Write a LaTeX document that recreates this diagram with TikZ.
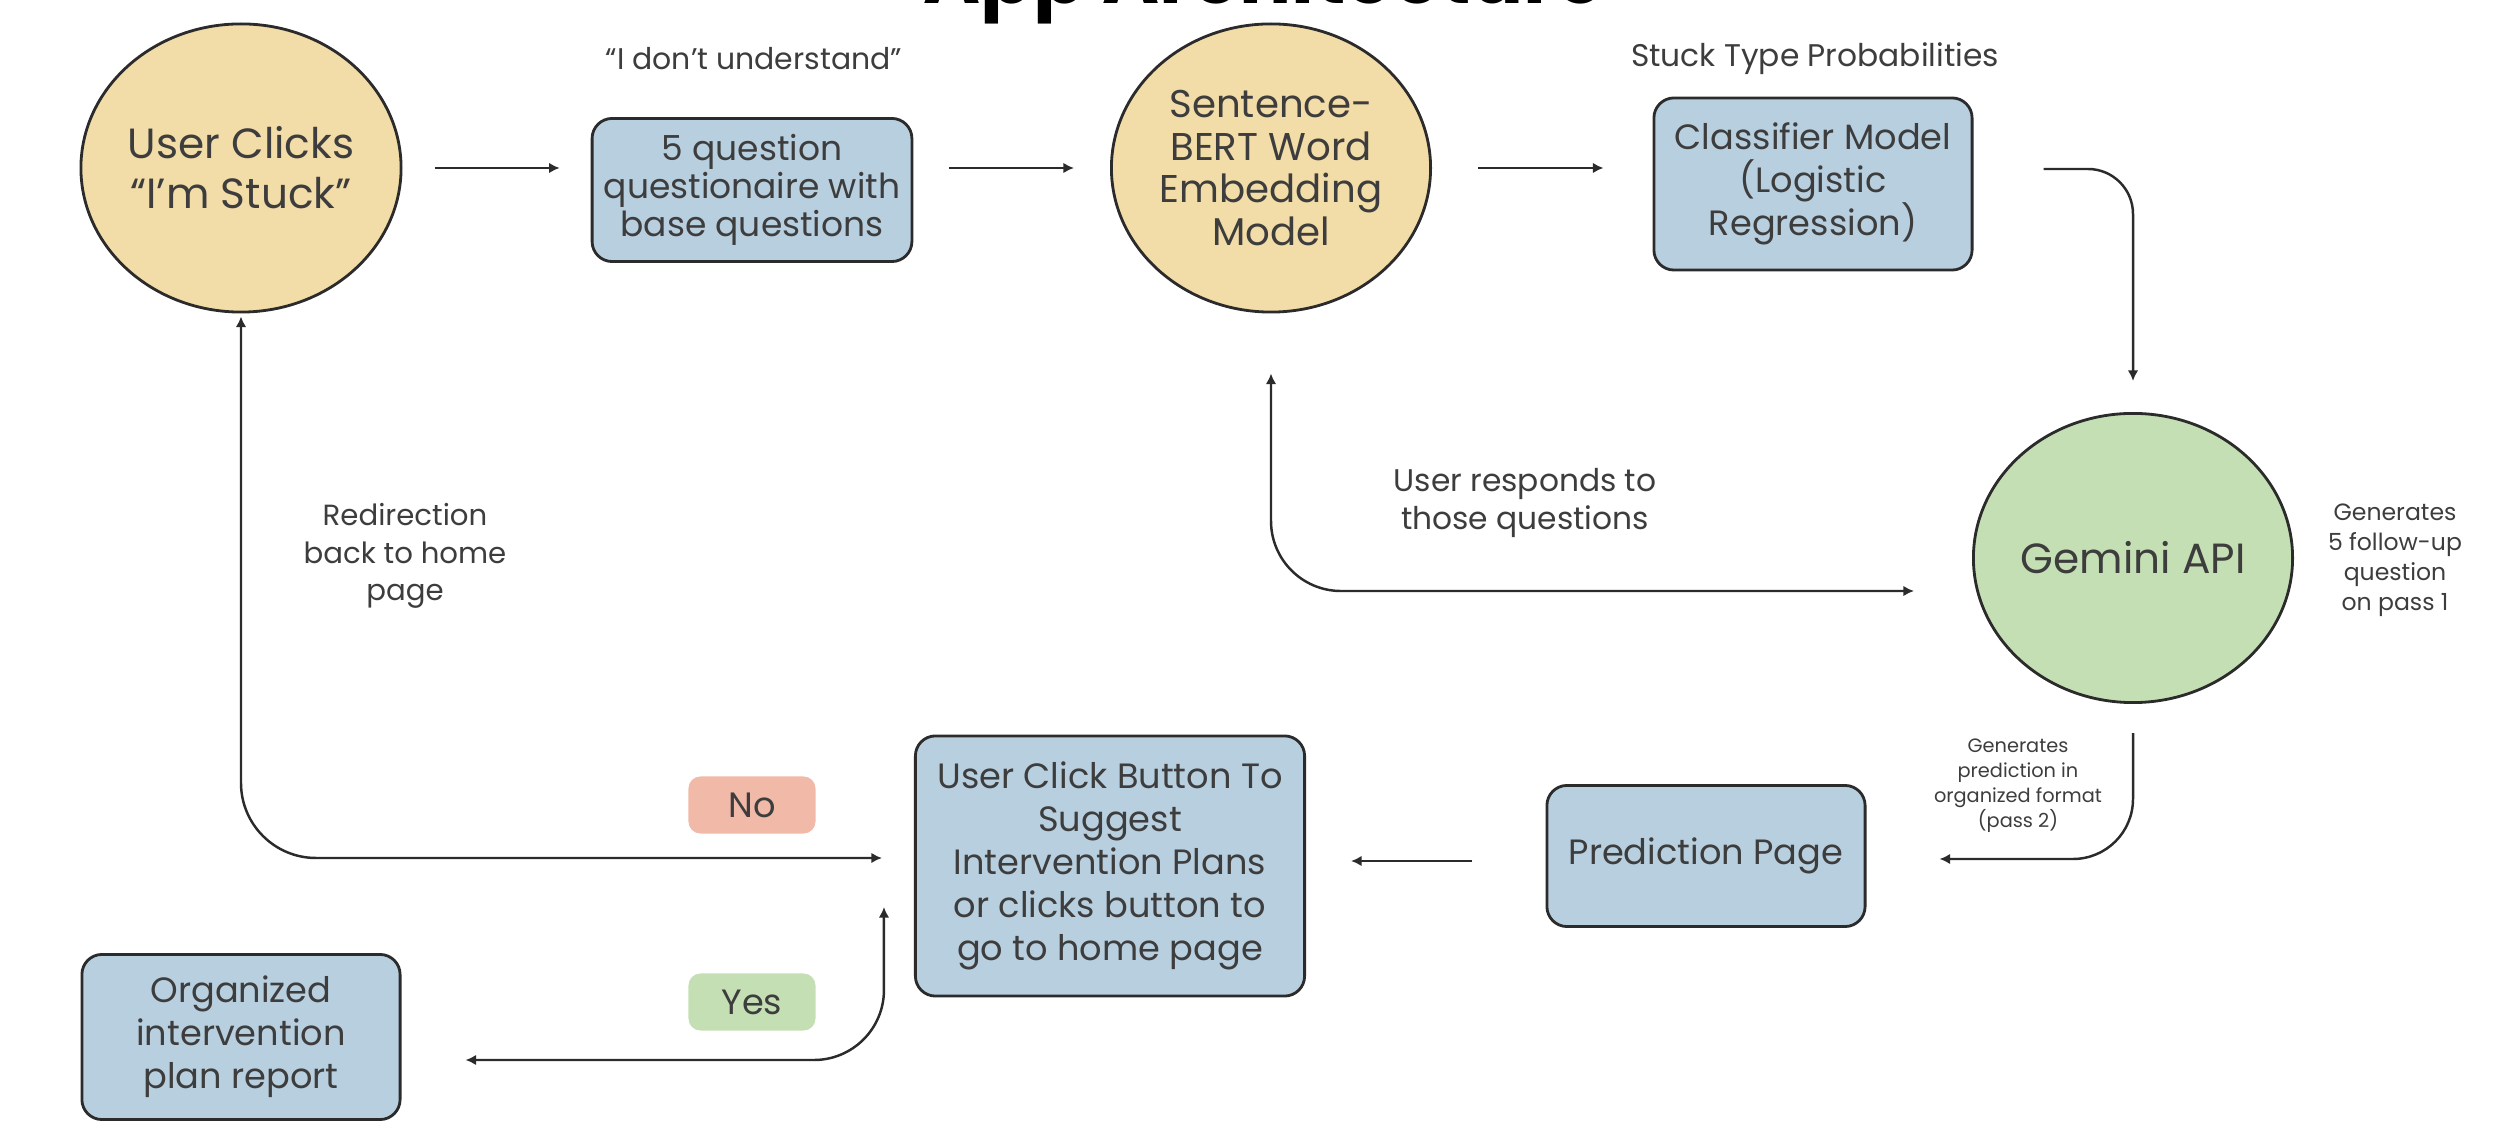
\documentclass[tikz,border=0pt]{standalone}
\usepackage{fontspec}
\setmainfont{Poppins}
\usepackage{tikz}
\usetikzlibrary{shapes.geometric,arrows.meta}
\definecolor{stuckTan}{HTML}{F2DCA8}
\definecolor{boxBlue}{HTML}{B8CFDF}
\definecolor{gemGreen}{HTML}{C5DFB4}
\definecolor{noRed}{HTML}{F0B9A8}
\definecolor{lineGray}{HTML}{2B2B2B}
\definecolor{txtGray}{HTML}{3D3D3D}

\begin{document}
\begin{tikzpicture}[x=0.01cm, y=-0.01cm,
  oval/.style={ellipse, draw=lineGray, line width=0.8pt, minimum width=3.19cm, minimum height=2.88cm, inner sep=0pt, align=center, text=txtGray},
  box/.style={rectangle, rounded corners=0.2cm, draw=lineGray, line width=0.8pt, fill=boxBlue, minimum width=3.18cm, align=center, text=txtGray, font=\fontsize{10}{12.2}\selectfont},
  flow/.style={line width=0.7pt, draw=lineGray, -{Latex[length=3pt,width=3pt]}},
  both/.style={flow, {Latex[length=3pt,width=3pt]}-{Latex[length=3pt,width=3pt]}},
  note/.style={text=txtGray, align=center, font=\fontsize{8.9}{11}\selectfont},
  tag/.style={rectangle, rounded corners=0.12cm, minimum width=1.27cm, minimum height=0.57cm, text=txtGray, font=\fontsize{10}{12}\selectfont}]
\useasboundingbox (0,0) rectangle (2508,1122);
\clip (0,0) rectangle (2508,1122);
\node[font=\bfseries\fontsize{22}{24}\selectfont, anchor=base] (title) at (1264,4) {App Architecture};
% main flow
\node[oval, fill=stuckTan, font=\fontsize{12}{14.2}\selectfont] (stuck) at (241,168) {User Clicks\\“I’m Stuck”};
\node[box, minimum height=1.43cm, font=\fontsize{9.8}{10.8}\selectfont] (quest) at (752,190) {5 question\\questionaire with\\base questions};
\node[oval, fill=stuckTan, font=\fontsize{11}{12.2}\selectfont] (sbert) at (1271,168) {Sentence-\\BERT Word\\Embedding\\Model};
\node[box, minimum height=1.72cm] (cls) at (1813,184) {Classifier Model\\(Logistic\\Regression)};
\node[oval, fill=gemGreen, minimum height=2.89cm, font=\fontsize{12}{14.2}\selectfont] (gem) at (2133,558) {Gemini API};
\node[box, minimum height=1.41cm] (pred) at (1706,856) {Prediction Page};
\node[box, minimum width=3.89cm, minimum height=2.6cm] (click) at (1110,866) {User Click Button To\\Suggest\\Intervention Plans\\or clicks button to\\go to home page};
\node[box, minimum height=1.65cm] (report) at (241,1037) {Organized\\intervention\\plan report};
\node[tag, fill=noRed] (no) at (752,805) {No};
\node[tag, fill=gemGreen] (yes) at (752,1002) {Yes};
% labels
\node[note, font=\fontsize{8.5}{11}\selectfont] (dontund) at (754,59) {“I don’t understand”};
\node[note] (probs) at (1815,59) {Stuck Type Probabilities};
\node[note] (resp) at (1525,503) {User responds to\\those questions};
\node[note, font=\fontsize{8.3}{10.6}\selectfont] (redir) at (405,556) {Redirection\\back to home\\page};
\node[note, font=\fontsize{6.7}{8.5}\selectfont] (gemnote) at (2395,560) {Generates\\5 follow-up\\question\\on pass 1};
\node[note, font=\fontsize{5.5}{7.1}\selectfont] (prednote) at (2018,786) {Generates\\prediction in\\organized format\\(pass 2)};
% connectors
\draw[flow, shorten <=0.32cm, shorten >=0.31cm] (stuck.east) -- (stuck.east -| quest.west);
\draw[flow, shorten <=0.36cm, shorten >=0.36cm] (sbert.west -| quest.east) -- (sbert.west);
\draw[flow, shorten <=0.46cm, shorten >=0.49cm] (sbert.east) -- (sbert.east -| cls.west);
\draw[flow, rounded corners=0.45cm, shorten <=0.7cm, shorten >=0.31cm] ([yshift=0.15cm]cls.east) -| (gem.north);
\draw[flow, rounded corners=0.6cm, shorten <=0.29cm, shorten >=0.73cm] (gem.south) |- ([yshift=-0.03cm]pred.east);
\draw[flow, shorten <=0.73cm, shorten >=0.45cm] ([yshift=-0.05cm]pred.west) -- ([yshift=-0.05cm]pred.west -| click.east);
\draw[both, rounded corners=0.7cm, shorten <=0.6cm, shorten >=0.58cm] (sbert.south) |- ([yshift=-0.33cm]gem.west);
\draw[both, rounded corners=0.75cm, shorten <=0.03cm, shorten >=0.32cm] (stuck.south) |- ([yshift=0.08cm]click.west);
\draw[both, rounded corners=0.7cm, shorten >=0.64cm] ([xshift=-0.3cm, yshift=-0.41cm]click.west) |- ([yshift=-0.23cm]report.east);
\end{tikzpicture}
\end{document}
